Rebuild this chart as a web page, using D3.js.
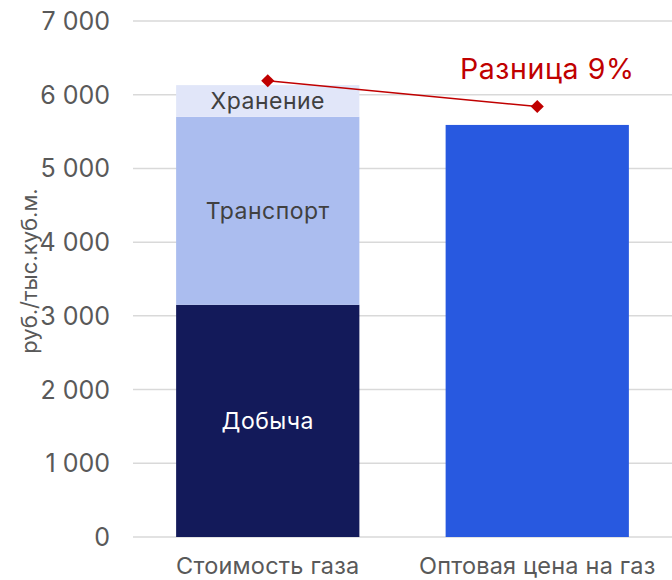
<!DOCTYPE html>
<html>
<head>
<meta charset="utf-8">
<script src="https://cdn.jsdelivr.net/npm/d3@7"></script>
<style>
  body { margin: 0; background: #fff; }
  text { font-family: "Inter", sans-serif; }
</style>
</head>
<body>
<div id="chart"></div>
<script>
// values (руб./тыс.куб.м.)
var categories = ["Стоимость газа", "Оптовая цена на газ"];
var costParts = ["Добыча", "Транспорт", "Хранение"];
var costValues = [3150, 2550, 430];
var wholesalePrice = 5590;
var diffPoints = [6190, 5840];
var diffLabel = "Разница 9%";
var yTicks = [0, 1000, 2000, 3000, 4000, 5000, 6000, 7000];

var width = 672,
    height = 580;
var margin = {top: 21, right: 0, bottom: 43, left: 133};

var partColors = ["#131a5a", "#abbdef", "#e1e6f9"];
var partText = ["#ffffff", "#404040", "#404040"];

var svg = d3.select("#chart").append("svg")
    .attr("width", width)
    .attr("height", height);

var x = d3.scaleBand()
    .domain(categories)
    .range([margin.left, width - margin.right])
    .paddingInner(0.32)
    .paddingOuter(0.16);

var y = d3.scaleLinear()
    .domain([0, 7000])
    .range([height - margin.bottom, margin.top]);

var fmt = d3.formatLocale({decimal: ",", thousands: " ", grouping: [3], currency: ["", ""]}).format(",d");

// gridlines
svg.append("g")
  .selectAll("line")
  .data(yTicks)
  .enter().append("line")
  .attr("x1", margin.left)
  .attr("x2", width)
  .attr("y1", d => y(d))
  .attr("y2", d => y(d))
  .style("stroke", "#d9d9d9")
  .style("stroke-width", "1.5px");

// y labels
svg.append("g")
  .selectAll("text")
  .data(yTicks)
  .enter().append("text")
  .attr("x", 110)
  .attr("y", d => y(d))
  .attr("dy", "0.36em")
  .attr("text-anchor", "end")
  .style("font-size", "25px")
  .style("fill", "#595959")
  .text(d => fmt(d));

svg.append("text")
  .attr("transform", "translate(37," + 271 + ") rotate(-90)")
  .attr("text-anchor", "middle")
  .style("font-size", "22px")
  .style("fill", "#595959")
  .text("руб./тыс.куб.м.");

// stacked bar
var stack = [];
var acc = 0;
costValues.forEach(function(v, i) {
  stack.push({name: costParts[i], y0: acc, y1: acc + v, i: i});
  acc += v;
});

var g1 = svg.append("g");
g1.selectAll("rect")
  .data(stack)
  .enter().append("rect")
  .attr("x", x(categories[0]))
  .attr("width", x.bandwidth())
  .attr("y", d => y(d.y1))
  .attr("height", d => y(d.y0) - y(d.y1))
  .attr("fill", d => partColors[d.i]);

g1.selectAll("text")
  .data(stack)
  .enter().append("text")
  .attr("x", x(categories[0]) + x.bandwidth() / 2)
  .attr("y", d => (y(d.y0) + y(d.y1)) / 2)
  .attr("dy", "0.36em")
  .attr("text-anchor", "middle")
  .style("font-size", "23px")
  .style("letter-spacing", "0.5px")
  .style("fill", d => partText[d.i])
  .text(d => d.name);

// wholesale bar
svg.append("rect")
  .attr("x", x(categories[1]))
  .attr("width", x.bandwidth())
  .attr("y", y(wholesalePrice))
  .attr("height", y(0) - y(wholesalePrice))
  .attr("fill", "#2859e0");

// category labels
svg.append("g")
  .selectAll("text")
  .data(categories)
  .enter().append("text")
  .attr("x", d => x(d) + x.bandwidth() / 2)
  .attr("y", 574)
  .attr("text-anchor", "middle")
  .style("font-size", "23.5px")
  .style("letter-spacing", "0.2px")
  .style("fill", "#595959")
  .text(d => d);

// difference line
var line = d3.line()
  .x((d, i) => x(categories[i]) + x.bandwidth() / 2)
  .y(d => y(d));

svg.append("path")
  .datum(diffPoints)
  .attr("d", line)
  .style("fill", "none")
  .style("stroke", "#c00000")
  .style("stroke-width", "1.5px");

svg.append("g")
  .selectAll("path")
  .data(diffPoints)
  .enter().append("path")
  .attr("d", d3.symbol().type(d3.symbolDiamond2).size(110))
  .attr("transform", (d, i) => "translate(" + (x(categories[i]) + x.bandwidth() / 2) + "," + y(d) + ")")
  .attr("fill", "#c00000");

svg.append("text")
  .attr("x", x(categories[1]) + x.bandwidth() / 2 + 10)
  .attr("y", 79)
  .attr("text-anchor", "middle")
  .style("font-size", "28.5px")
  .style("letter-spacing", "0.6px")
  .style("fill", "#c00000")
  .text(diffLabel);
</script>
</body>
</html>
